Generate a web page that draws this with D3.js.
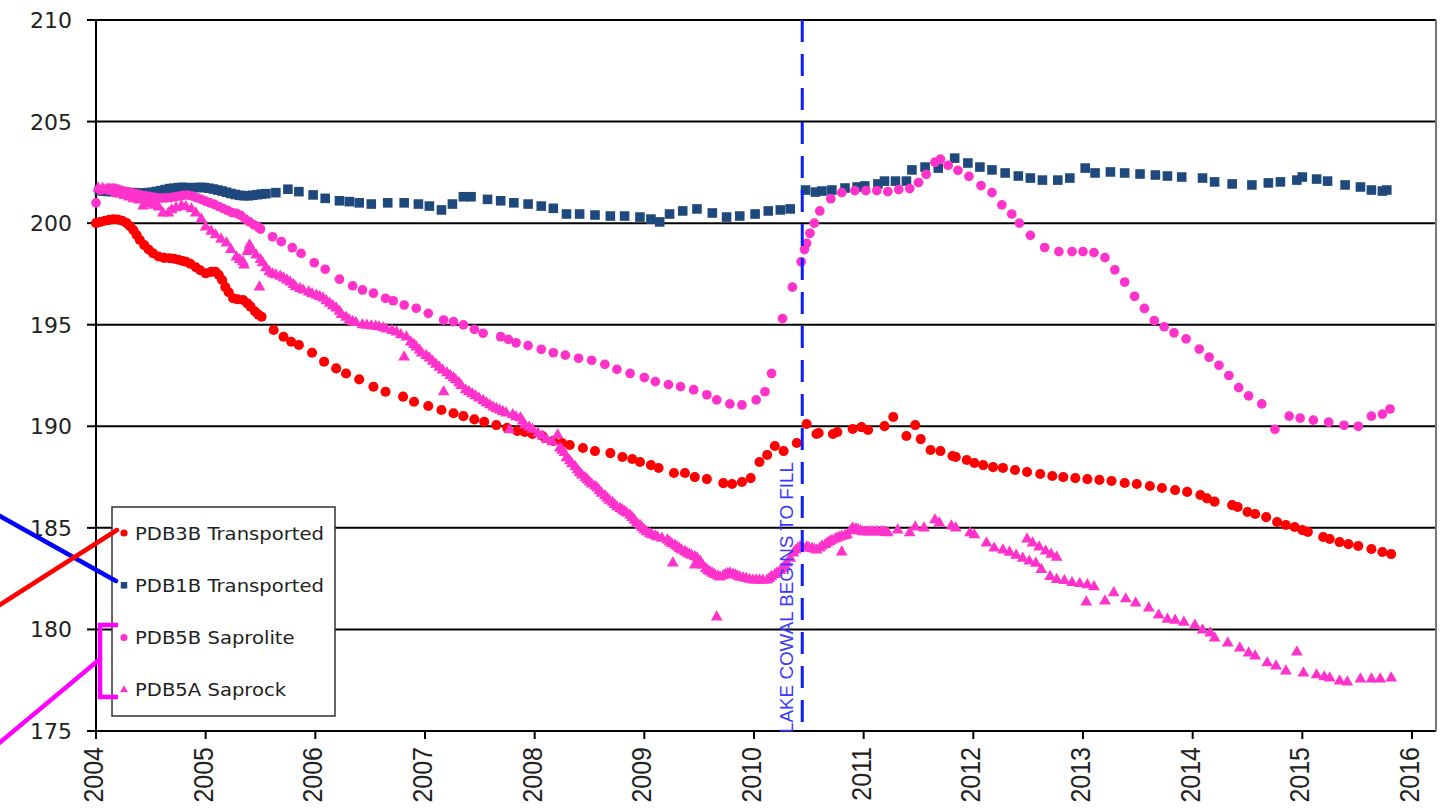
<!DOCTYPE html>
<html><head><meta charset="utf-8">
<script src="https://cdn.jsdelivr.net/npm/d3@7"></script>
<style>body{margin:0;background:#fff} svg{display:block}</style>
</head><body>
<svg id="c" width="1445" height="809"></svg>
<script>
const yTicks = [175,180,185,190,195,200,205,210];
const xTicks = [2004,2005,2006,2007,2008,2009,2010,2011,2012,2013,2014,2015,2016];
const seriesNames = ["PDB3B Transported","PDB1B Transported","PDB5B Saprolite","PDB5A Saprock"];
const fillDate = 2010.44;
const fillLabel = "LAKE COWAL BEGINS TO FILL";

const pdb3b = [
[2004.00,200.0],[2004.04,200.06],[2004.08,200.12],[2004.12,200.16],[2004.16,200.19],[2004.20,200.18],[2004.24,200.12],[2004.28,200.0],[2004.31,199.85],[2004.34,199.66],[2004.37,199.42],[2004.40,199.17],[2004.44,198.92],[2004.48,198.7],[2004.52,198.52],[2004.57,198.36],[2004.62,198.29],[2004.67,198.27],[2004.71,198.25],[2004.75,198.2],[2004.79,198.14],[2004.82,198.1],[2004.86,198.0],[2004.91,197.83],[2004.95,197.68],[2005.00,197.53],[2005.05,197.6],[2005.09,197.61],[2005.12,197.45],[2005.15,197.2],[2005.18,196.85],[2005.21,196.6],[2005.25,196.3],[2005.29,196.25],[2005.34,196.22],[2005.38,196.05],[2005.41,195.89],[2005.45,195.65],[2005.48,195.5],[2005.51,195.39],
[2005.62,194.74],[2005.71,194.41],[2005.78,194.16],[2005.85,194.0],[2005.97,193.62],[2006.08,193.18],[2006.19,192.85],[2006.28,192.6],[2006.40,192.31],[2006.53,191.95],[2006.64,191.7],[2006.80,191.46],[2006.90,191.21],[2007.03,191.0],[2007.15,190.8],[2007.26,190.64],[2007.35,190.5],[2007.45,190.34],[2007.54,190.22],[2007.65,190.06],[2007.75,189.92],[2007.84,189.77],[2007.91,189.72],[2007.98,189.62],[2008.07,189.52],[2008.17,189.28],[2008.25,189.18],[2008.32,189.08],[2008.44,188.93],[2008.55,188.78],[2008.69,188.68],[2008.80,188.49],[2008.89,188.39],[2008.96,188.24],[2009.06,188.09],[2009.13,187.95],[2009.27,187.7],[2009.37,187.7],[2009.46,187.5],[2009.57,187.4],[2009.72,187.2],[2009.80,187.16],[2009.89,187.26],[2009.97,187.45],[2010.05,188.24],[2010.12,188.59],[2010.19,189.03],[2010.27,188.78],[2010.39,189.18],[2010.48,190.11],[2010.57,189.62],[2010.59,189.67],[2010.72,189.62],[2010.76,189.72],[2010.90,189.87],[2010.98,189.96],[2011.04,189.82],[2011.19,190.01],[2011.27,190.46],[2011.39,189.52],[2011.47,190.06],[2011.52,189.37],[2011.61,188.83],[2011.70,188.78],[2011.81,188.54],[2011.84,188.49],[2011.94,188.34],[2012.01,188.19],[2012.09,188.09],[2012.18,187.99],[2012.27,187.95],[2012.38,187.85],[2012.49,187.75],[2012.61,187.65],[2012.72,187.55],[2012.82,187.5],[2012.93,187.45],[2013.04,187.4],[2013.15,187.36],[2013.26,187.31],[2013.38,187.21],[2013.49,187.16],[2013.61,187.06],[2013.72,186.96],[2013.84,186.86],[2013.95,186.77],[2014.07,186.62],[2014.13,186.45],[2014.20,186.29],[2014.36,186.12],[2014.41,186.03],[2014.50,185.78],[2014.57,185.68],[2014.67,185.53],[2014.77,185.29],[2014.85,185.14],[2014.93,185.04],[2015.00,184.89],[2015.05,184.80],[2015.19,184.55],[2015.25,184.45],[2015.34,184.30],[2015.42,184.2],[2015.51,184.11],[2015.63,183.96],[2015.73,183.81],[2015.81,183.71]
];

const pdb1b = [
[2004.03,201.6],[2004.07,201.58],[2004.11,201.56],[2004.15,201.55],[2004.19,201.55],[2004.23,201.53],[2004.27,201.52],[2004.31,201.5],[2004.35,201.5],[2004.39,201.48],[2004.43,201.48],[2004.47,201.5],[2004.51,201.52],[2004.55,201.56],[2004.59,201.6],[2004.63,201.65],[2004.67,201.7],[2004.71,201.72],[2004.75,201.75],[2004.79,201.76],[2004.83,201.75],[2004.87,201.74],[2004.91,201.75],[2004.95,201.76],[2004.99,201.75],[2005.03,201.72],[2005.07,201.68],[2005.11,201.63],[2005.15,201.58],[2005.19,201.52],[2005.23,201.46],[2005.27,201.41],[2005.31,201.37],[2005.35,201.35],[2005.39,201.35],[2005.43,201.37],[2005.47,201.4],[2005.51,201.43],[2005.55,201.45],
[2005.64,201.5],[2005.75,201.67],[2005.85,201.55],[2005.98,201.39],[2006.09,201.22],[2006.22,201.1],[2006.31,201.06],[2006.40,201.0],[2006.51,200.94],[2006.66,201.0],[2006.81,201.0],[2006.94,200.94],[2007.04,200.84],[2007.15,200.65],[2007.25,200.94],[2007.35,201.3],[2007.42,201.3],[2007.57,201.17],[2007.69,201.1],[2007.81,201.0],[2007.94,200.94],[2008.06,200.84],[2008.17,200.73],[2008.29,200.45],[2008.41,200.45],[2008.55,200.4],[2008.69,200.35],[2008.82,200.35],[2008.96,200.3],[2009.06,200.2],[2009.14,200.06],[2009.23,200.45],[2009.35,200.6],[2009.48,200.7],[2009.62,200.5],[2009.75,200.3],[2009.87,200.35],[2010.01,200.45],[2010.13,200.6],[2010.24,200.65],[2010.33,200.7],
[2010.47,201.63],[2010.56,201.53],[2010.62,201.58],[2010.71,201.63],[2010.83,201.73],[2010.94,201.78],[2011.01,201.83],[2011.13,201.93],[2011.19,202.07],[2011.29,202.07],[2011.39,202.07],[2011.44,202.62],[2011.56,202.76],[2011.68,202.71],[2011.83,203.2],[2011.95,202.96],[2012.06,202.76],[2012.17,202.62],[2012.29,202.47],[2012.41,202.32],[2012.52,202.22],[2012.63,202.12],[2012.77,202.12],[2012.88,202.22],[2013.02,202.71],[2013.11,202.47],[2013.25,202.52],[2013.38,202.47],[2013.52,202.42],[2013.66,202.37],[2013.77,202.32],[2013.90,202.27],[2014.09,202.22],[2014.20,202.03],[2014.36,201.93],[2014.54,201.88],[2014.69,201.98],[2014.80,202.03],[2014.95,202.12],[2015.00,202.27],[2015.13,202.17],[2015.23,202.07],[2015.39,201.88],[2015.53,201.78],[2015.63,201.63],[2015.73,201.58],[2015.77,201.63]
];

const pdb5b = [
[2004.00,201.0],[2004.04,201.63],[2004.08,201.68],[2004.12,201.72],[2004.16,201.73],[2004.20,201.68],[2004.24,201.6],[2004.28,201.55],[2004.32,201.5],[2004.36,201.45],[2004.40,201.4],[2004.44,201.36],[2004.48,201.32],[2004.52,201.28],[2004.56,201.25],[2004.60,201.23],[2004.64,201.24],[2004.68,201.26],[2004.72,201.29],[2004.76,201.33],[2004.80,201.37],[2004.84,201.38],[2004.88,201.33],[2004.92,201.25],[2004.96,201.17],[2005.00,201.08],[2005.04,201.0],[2005.08,200.92],[2005.12,200.82],[2005.16,200.72],[2005.20,200.62],[2005.24,200.52],[2005.28,200.48],[2005.32,200.38],[2005.36,200.2],[2005.40,200.06],[2005.44,199.92],[2005.48,199.8],[2005.50,199.71],
[2005.61,199.33],[2005.69,199.09],[2005.79,198.79],[2005.87,198.51],[2005.99,198.05],[2006.09,197.73],[2006.22,197.24],[2006.34,196.91],[2006.43,196.71],[2006.53,196.55],[2006.64,196.3],[2006.71,196.18],[2006.81,195.97],[2006.92,195.81],[2007.03,195.56],[2007.17,195.23],[2007.26,195.15],[2007.35,194.99],[2007.45,194.77],[2007.53,194.58],[2007.69,194.41],[2007.76,194.28],[2007.83,194.11],[2007.94,193.97],[2008.06,193.79],[2008.17,193.62],[2008.28,193.5],[2008.40,193.35],[2008.52,193.25],[2008.64,193.05],[2008.75,192.8],[2008.87,192.6],[2009.00,192.4],[2009.10,192.2],[2009.22,192.05],[2009.33,191.95],[2009.45,191.8],[2009.57,191.55],[2009.66,191.3],[2009.78,191.1],[2009.89,191.05],[2010.02,191.3],[2010.10,191.7],[2010.16,192.6],[2010.26,195.3],[2010.35,196.85],[2010.43,198.1],[2010.46,198.7],[2010.48,199.0],[2010.51,199.5],[2010.55,200.0],[2010.60,200.6],[2010.70,201.2],[2010.80,201.5],[2010.92,201.6],[2011.02,201.6],[2011.12,201.6],[2011.22,201.55],[2011.32,201.65],[2011.42,201.7],[2011.50,202.0],[2011.57,202.4],[2011.65,203.0],[2011.70,203.15],[2011.77,202.85],[2011.86,202.6],[2011.96,202.3],[2012.07,201.85],[2012.17,201.5],[2012.26,200.9],[2012.35,200.45],[2012.42,200.0],[2012.52,199.4],[2012.65,198.8],[2012.78,198.6],[2012.90,198.6],[2013.00,198.6],[2013.10,198.55],[2013.20,198.3],[2013.29,197.7],[2013.38,197.1],[2013.47,196.4],[2013.56,195.8],[2013.65,195.2],[2013.74,194.9],[2013.83,194.6],[2013.94,194.3],[2014.06,193.8],[2014.15,193.4],[2014.24,193.0],[2014.33,192.5],[2014.42,191.9],[2014.51,191.5],[2014.63,191.1],[2014.75,189.85],[2014.88,190.5],[2014.98,190.4],[2015.10,190.3],[2015.24,190.2],[2015.38,190.05],[2015.51,190.0],[2015.63,190.5],[2015.73,190.6],[2015.80,190.85]
];

const pdb5a = [
[2004.02,201.73],[2004.06,201.7],[2004.10,201.65],[2004.14,201.56],[2004.18,201.48],[2004.22,201.42],[2004.26,201.35],[2004.30,201.28],[2004.34,201.2],[2004.39,201.14],[2004.43,200.84],[2004.46,201.0],[2004.49,200.95],[2004.53,200.88],[2004.57,200.79],[2004.61,200.5],[2004.66,200.5],[2004.69,200.65],[2004.73,200.75],[2004.78,200.85],[2004.82,200.8],[2004.87,200.7],[2004.91,200.5],[2004.96,200.2],[2005.00,199.81],[2005.05,199.6],[2005.09,199.42],[2005.14,199.2],[2005.19,199.02],[2005.23,198.7],[2005.28,198.33],[2005.31,198.2],[2005.34,198.09],[2005.35,197.94],[2005.38,198.6],[2005.40,198.92],[2005.42,198.7],[2005.46,198.43],[2005.49,196.85],[2005.50,198.2],[2005.52,198.04],[2005.55,197.8],[2005.58,197.6],[2005.61,197.5],[2005.64,197.45],[2005.68,197.38],[2005.71,197.3],[2005.74,197.2],[2005.77,197.1],[2005.80,196.98],[2005.82,196.86],[2005.86,196.78],[2005.89,196.7],[2005.94,196.61],[2005.97,196.52],[2006.01,196.45],[2006.04,196.38],[2006.07,196.31],[2006.10,196.18],[2006.13,196.05],[2006.16,195.93],[2006.19,195.82],[2006.22,195.66],[2006.24,195.5],[2006.28,195.36],[2006.31,195.23],[2006.34,195.15],[2006.37,195.1],[2006.43,194.99],[2006.47,194.97],[2006.51,194.95],[2006.55,194.92],[2006.58,194.89],[2006.62,194.84],[2006.65,194.78],[2006.70,194.71],[2006.74,194.64],[2006.78,194.5],[2006.81,193.41],[2006.83,194.39],[2006.87,194.15],[2006.90,194.02],[2006.92,193.9],[2006.95,193.75],[2006.97,193.6],[2007.01,193.48],[2007.04,193.36],[2007.07,193.2],[2007.10,193.05],[2007.13,192.9],[2007.16,192.77],[2007.17,191.69],[2007.20,192.63],[2007.23,192.5],[2007.26,192.39],[2007.28,192.28],[2007.31,192.14],[2007.33,192.0],[2007.37,191.79],[2007.40,191.7],[2007.43,191.6],[2007.46,191.5],[2007.49,191.39],[2007.53,191.27],[2007.56,191.15],[2007.59,191.05],[2007.62,190.95],[2007.65,190.87],[2007.68,190.8],[2007.71,190.72],[2007.74,190.65],[2007.77,189.82],[2007.80,190.56],[2007.83,190.46],[2007.87,190.41],[2007.89,190.25],[2007.91,190.06],[2007.95,189.95],[2007.98,189.85],[2008.03,189.65],[2008.07,189.52],[2008.11,189.35],[2008.16,189.23],[2008.21,189.57],[2008.23,188.93],[2008.25,188.82],[2008.27,188.7],[2008.29,188.44],[2008.32,188.3],[2008.34,188.15],[2008.37,188.0],[2008.39,187.85],[2008.41,187.72],[2008.43,187.6],[2008.46,187.48],[2008.48,187.36],[2008.50,187.25],[2008.52,187.15],[2008.55,187.05],[2008.57,186.96],[2008.59,186.82],[2008.61,186.7],[2008.64,186.58],[2008.66,186.47],[2008.68,186.36],[2008.71,186.25],[2008.73,186.14],[2008.75,186.03],[2008.78,185.95],[2008.80,185.88],[2008.82,185.8],[2008.84,185.73],[2008.87,185.62],[2008.89,185.5],[2008.91,185.37],[2008.93,185.24],[2008.96,185.12],[2008.98,185.0],[2009.00,184.9],[2009.02,184.8],[2009.05,184.72],[2009.07,184.65],[2009.10,184.6],[2009.12,184.55],[2009.16,184.48],[2009.21,184.4],[2009.23,184.3],[2009.25,184.22],[2009.26,183.27],[2009.28,184.14],[2009.30,184.06],[2009.32,183.98],[2009.34,183.9],[2009.37,183.83],[2009.39,183.76],[2009.41,183.7],[2009.43,183.65],[2009.46,183.17],[2009.46,183.58],[2009.48,183.52],[2009.51,183.35],[2009.53,183.17],[2009.56,183.0],[2009.58,182.9],[2009.60,182.83],[2009.62,182.76],[2009.64,182.7],[2009.66,180.61],[2009.67,182.63],[2009.69,182.58],[2009.72,182.64],[2009.74,182.7],[2009.76,182.75],[2009.78,182.78],[2009.81,182.72],[2009.83,182.68],[2009.85,182.62],[2009.87,182.58],[2009.90,182.54],[2009.93,182.5],[2009.96,182.46],[2009.99,182.43],[2010.02,182.43],[2010.05,182.43],[2010.08,182.42],[2010.12,182.43],[2010.14,182.5],[2010.16,182.6],[2010.19,182.7],[2010.21,182.78],[2010.24,182.9],[2010.26,183.0],[2010.28,183.14],[2010.30,183.27],[2010.33,183.5],[2010.36,183.76],[2010.38,183.9],[2010.40,184.0],[2010.42,184.06],[2010.45,184.0],[2010.48,184.06],[2010.50,184.02],[2010.53,183.98],[2010.55,183.95],[2010.57,183.91],[2010.60,184.0],[2010.62,184.1],[2010.65,184.18],[2010.67,184.25],[2010.69,184.32],[2010.71,184.38],[2010.74,184.45],[2010.76,184.5],[2010.78,184.54],[2010.80,184.58],[2010.80,183.81],[2010.83,184.62],[2010.85,184.65],[2010.88,184.85],[2010.90,184.99],[2010.93,184.95],[2010.95,184.9],[2010.97,184.85],[2010.99,184.8],[2011.02,184.8],[2011.04,184.8],[2011.06,184.8],[2011.08,184.8],[2011.11,184.8],[2011.13,184.8],[2011.16,184.8],[2011.18,184.8],[2011.20,184.78],[2011.22,184.75],
[2011.31,184.89],[2011.42,184.75],[2011.47,185.04],[2011.55,184.99],[2011.65,185.39],[2011.69,185.24],[2011.80,185.09],[2011.84,184.99],[2011.97,184.75],[2012.01,184.65],[2012.12,184.25],[2012.19,184.0],[2012.27,183.91],[2012.33,183.8],[2012.39,183.65],[2012.45,183.5],[2012.51,183.36],[2012.57,183.25],[2012.62,182.95],
[2012.49,184.45],[2012.54,184.25],[2012.60,184.05],[2012.66,183.85],[2012.71,183.7],[2012.76,183.55],
[2012.70,182.6],[2012.76,182.45],[2012.83,182.4],[2012.90,182.3],[2012.97,182.25],[2013.04,182.2],[2013.10,182.1],[2013.03,181.35],[2013.20,181.4],[2013.28,181.8],[2013.39,181.5],[2013.48,181.3],[2013.60,181.05],[2013.69,180.7],[2013.77,180.5],[2013.84,180.45],[2013.92,180.35],[2014.02,180.2],[2014.09,179.97],[2014.16,179.82],[2014.20,179.57],[2014.32,179.33],[2014.43,179.08],[2014.51,178.84],[2014.57,178.69],[2014.68,178.35],[2014.76,178.2],[2014.85,177.95],[2014.95,178.89],[2015.01,177.85],[2015.13,177.76],[2015.20,177.66],[2015.25,177.61],[2015.34,177.46],[2015.41,177.41],[2015.53,177.56],[2015.63,177.56],[2015.71,177.56],[2015.81,177.61]
];

const svg = d3.select("#c");
const x = d3.scaleLinear().domain([2004,2016]).range([96,1412]);
const y = d3.scaleLinear().domain([175,210]).range([731,20]);
const plotRight = 1436;

// gridlines
svg.append("g").selectAll("line").data(yTicks).join("line")
  .attr("x1",x(2004)).attr("x2",plotRight).attr("y1",d=>y(d)).attr("y2",d=>y(d))
  .attr("stroke","#000").attr("stroke-width",2);
// right border
svg.append("line").attr("x1",plotRight).attr("x2",plotRight).attr("y1",y(210)).attr("y2",y(175))
  .attr("stroke","#777").attr("stroke-width",2);
// y axis
svg.append("line").attr("x1",x(2004)).attr("x2",x(2004)).attr("y1",y(210)).attr("y2",y(175)+2)
  .attr("stroke","#000").attr("stroke-width",2);
svg.append("g").selectAll("line").data(yTicks).join("line")
  .attr("x1",87).attr("x2",x(2004)).attr("y1",d=>y(d)).attr("y2",d=>y(d))
  .attr("stroke","#000").attr("stroke-width",2);
svg.append("g").selectAll("text").data(yTicks).join("text")
  .attr("x",72).attr("y",d=>y(d)+8).attr("text-anchor","end")
  .attr("font-family","DejaVu Sans").attr("font-size",22).attr("fill","#222").text(d=>d);
// x axis ticks
svg.append("g").selectAll("line").data(xTicks).join("line")
  .attr("x1",d=>x(d)).attr("x2",d=>x(d)).attr("y1",y(175)).attr("y2",y(175)+8)
  .attr("stroke","#000").attr("stroke-width",2);
svg.append("g").selectAll("text").data(xTicks).join("text")
  .attr("transform",d=>`translate(${x(d)+7},747) rotate(-90) scale(1,1.1)`)
  .attr("text-anchor","end").attr("font-family","Liberation Sans").attr("font-size",25)
  .attr("fill","#222").text(d=>d);

const sym = (type,size)=>d3.symbol().type(type).size(size)();
const series = [
  {name:seriesNames[0], data:pdb3b, color:"#ff0000", shape:d3.symbolCircle, size:80},
  {name:seriesNames[1], data:pdb1b, color:"#1f497d", shape:d3.symbolSquare, size:92},
  {name:seriesNames[2], data:pdb5b, color:"#ff33cc", shape:d3.symbolCircle, size:74},
  {name:seriesNames[3], data:pdb5a, color:"#ff33cc", shape:d3.symbolTriangle, size:60}
];
series.forEach(s=>{
  svg.append("g").selectAll("path").data(s.data).join("path")
    .attr("d",sym(s.shape,s.size))
    .attr("transform",d=>`translate(${x(d[0])},${y(d[1])})`)
    .attr("fill",s.color);
});

// fill event line
svg.append("line").attr("x1",x(fillDate)).attr("x2",x(fillDate)).attr("y1",y(210)).attr("y2",y(175))
  .attr("stroke","#0a1eff").attr("stroke-width",3).attr("stroke-dasharray","22,12");
svg.append("text").attr("transform",`translate(${x(fillDate)-9},733) rotate(-90)`)
  .attr("font-family","Liberation Sans").attr("font-size",17.5).attr("fill","#3a3aff")
  .attr("textLength",271).attr("lengthAdjust","spacingAndGlyphs").text(fillLabel);

// legend
const lg = svg.append("g");
lg.append("rect").attr("x",112).attr("y",507).attr("width",223).attr("height",209)
  .attr("fill","#fff").attr("stroke","#333").attr("stroke-width",1.5);
const legendSizes=[40,42,40,28];
series.forEach((s,i)=>{
  const cy = 533 + i*52.3;
  lg.append("path").attr("d",sym(s.shape, legendSizes[i]))
    .attr("transform",`translate(124,${cy})`).attr("fill",s.color);
  lg.append("text").attr("transform",`translate(135,${cy+6.5}) scale(1.06,1)`)
    .attr("font-family","DejaVu Sans").attr("font-size",18.5).attr("fill","#222").text(s.name);
});

// leader-line artefacts at left
const ann = svg.append("g").attr("fill","none").attr("stroke-width",4.5).attr("stroke-linecap","round");
ann.append("line").attr("x1",-2).attr("y1",515).attr("x2",116).attr("y2",581).attr("stroke","#0000ff");
ann.append("line").attr("x1",-2).attr("y1",606).attr("x2",117).attr("y2",530).attr("stroke","#ff0000");
ann.append("polyline").attr("points","118,625 100,625 100,697 118,697").attr("stroke","#ff00ff").attr("stroke-linecap","butt");
ann.append("line").attr("x1",-2).attr("y1",744).attr("x2",100).attr("y2",659).attr("stroke","#ff00ff");
</script>
</body></html>
